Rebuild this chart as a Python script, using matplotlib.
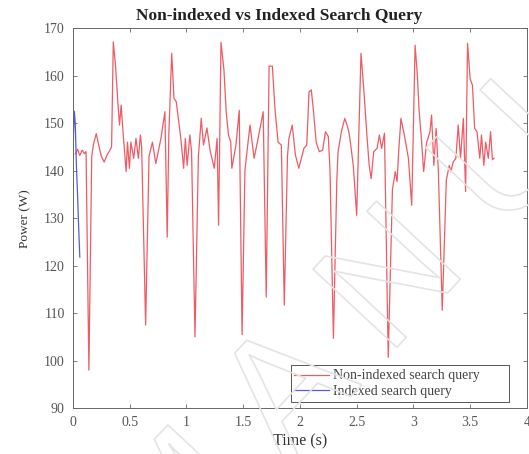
import matplotlib
matplotlib.use("Agg")
import matplotlib.pyplot as plt
import matplotlib.patheffects as pe
from matplotlib.patches import Rectangle

# Non-indexed search query power trace (time in s, power in W)
t_nonindexed = [0.02, 0.04, 0.06, 0.08, 0.10, 0.115, 0.14, 0.165, 0.18, 0.205, 0.23, 0.25, 0.275, 0.30,
                0.325, 0.34, 0.355, 0.375, 0.395, 0.41, 0.424, 0.435, 0.45, 0.468, 0.48, 0.497, 0.51,
                0.535, 0.555, 0.576, 0.594, 0.605, 0.64, 0.67, 0.70, 0.73, 0.775, 0.81, 0.83, 0.845,
                0.87, 0.89, 0.91, 0.95, 0.975, 0.99, 1.006, 1.03, 1.045, 1.075, 1.105, 1.13, 1.15,
                1.18, 1.21, 1.245, 1.27, 1.283, 1.304, 1.33, 1.35, 1.37, 1.39, 1.40, 1.436, 1.465,
                1.49, 1.515, 1.53, 1.56, 1.596, 1.625, 1.676, 1.703, 1.728, 1.757, 1.78, 1.807,
                1.836, 1.862, 1.89, 1.903, 1.932, 1.96, 1.99, 2.035, 2.06, 2.08, 2.10, 2.12, 2.143,
                2.17, 2.20, 2.225, 2.25, 2.265, 2.295, 2.325, 2.336, 2.365, 2.395, 2.415, 2.43, 2.44,
                2.47, 2.50, 2.538, 2.56, 2.59, 2.61, 2.628, 2.65, 2.68, 2.70, 2.72, 2.745, 2.778,
                2.815, 2.84, 2.856, 2.87, 2.89, 2.92, 2.956, 2.985, 3.015, 3.035, 3.05, 3.07, 3.09,
                3.117, 3.146, 3.16, 3.18, 3.20, 3.22, 3.254, 3.29, 3.316, 3.33, 3.35, 3.374, 3.395,
                3.415, 3.44, 3.46, 3.477, 3.50, 3.52, 3.54, 3.56, 3.585, 3.60, 3.62, 3.637, 3.66,
                3.68, 3.696, 3.71]
p_nonindexed = [143.5, 144.5, 143.2, 144.3, 143.6, 144.0, 98.0, 143.0, 145.5, 147.8, 145.0, 143.0, 141.8,
                143.3, 144.3, 145.0, 167.1, 162.0, 154.5, 149.6, 153.8, 150.0, 145.4, 139.8, 146.0,
                140.5, 146.0, 142.6, 146.8, 142.6, 147.5, 145.0, 107.5, 143.0, 146.0, 141.5, 146.8,
                152.4, 126.0, 148.0, 164.7, 155.2, 154.5, 146.8, 140.5, 146.8, 141.1, 147.5, 144.0,
                105.0, 143.0, 151.0, 145.4, 149.0, 144.0, 140.5, 146.8, 128.5, 167.0, 161.3, 152.4,
                147.5, 146.0, 140.5, 145.4, 152.7, 105.5, 140.0, 143.3, 149.6, 142.6, 146.0, 152.4,
                113.4, 162.0, 162.0, 153.0, 146.0, 145.4, 111.7, 143.0, 146.8, 149.6, 143.3, 140.5,
                144.7, 145.4, 156.6, 157.0, 152.4, 146.0, 144.0, 144.3, 148.2, 147.2, 140.0, 104.7,
                138.0, 144.0, 148.2, 151.0, 149.6, 148.2, 146.8, 141.1, 130.6, 164.7, 158.0, 147.5,
                141.1, 138.3, 144.0, 144.7, 147.5, 144.7, 147.9, 100.7, 136.0, 139.8, 137.7, 144.0,
                151.0, 147.5, 142.6, 132.7, 166.4, 160.0, 152.7, 146.8, 139.8, 146.0, 148.2, 151.7,
                141.1, 148.9, 139.8, 110.6, 138.0, 141.1, 139.8, 141.8, 142.6, 149.6, 142.6, 151.0,
                135.6, 166.8, 159.3, 158.0, 148.9, 148.2, 142.6, 147.5, 141.1, 146.0, 142.6, 148.2,
                142.3, 142.6]

# Indexed search query power trace
t_indexed = [0.0, 0.005, 0.012, 0.02, 0.03, 0.04, 0.05, 0.06]
p_indexed = [143.0, 148.0, 152.5, 150.0, 141.0, 135.0, 128.0, 121.8]

x_ticks = [0, 0.5, 1, 1.5, 2, 2.5, 3, 3.5, 4]
x_tick_labels = ["0", "0.5", "1", "1.5", "2", "2.5", "3", "3.5", "4"]
y_ticks = [90, 100, 110, 120, 130, 140, 150, 160, 170]

serif = ["Liberation Serif", "DejaVu Serif"]
plt.rcParams["font.family"] = serif

fig = plt.figure(figsize=(5.29, 4.54), dpi=100)
ax = fig.add_axes([0.138, 0.101, 0.858, 0.837])

ax.plot(t_nonindexed, p_nonindexed, color="#f05a64", lw=0.9, label="Non-indexed search query")
ax.plot(t_indexed, p_indexed, color="#5a5ad2", lw=0.9, label="Indexed search query")

ax.set_xlim(0, 4)
ax.set_ylim(90, 170)
ax.set_xticks(x_ticks)
ax.set_xticklabels(x_tick_labels)
ax.set_yticks(y_ticks)
ax.tick_params(direction="in", top=True, right=True, length=3, width=0.6,
               labelsize=10, colors="#666666", labelcolor="#555555", pad=6)
for s in ax.spines.values():
    s.set_color("#666666")
    s.set_linewidth(0.7)

ax.set_title("Non-indexed vs Indexed Search Query", fontsize=12.5, fontweight="bold", pad=6,
             color="#222222", x=0.455)
ax.set_xlabel("Time (s)", fontsize=11.5, color="#333333", labelpad=3)
ax.set_ylabel("Power (W)", fontsize=9.5, color="#333333", labelpad=9)

# Legend entries without their own frame; a boxed outline with wide right margin
leg = ax.legend(loc="center left", bbox_to_anchor=(0.488, 0.064), fontsize=10, frameon=False,
                handlelength=2.5, borderpad=0.0, labelspacing=0.2,
                handletextpad=0.3, borderaxespad=0.0)
for txt in leg.get_texts():
    txt.set_color("#444444")
ax.add_patch(Rectangle((0.481, 0.016), 0.479, 0.097, transform=ax.transAxes, fill=False,
                       edgecolor="#555555", lw=0.7, zorder=5))

# Diagonal outlined, letter-spaced watermark
fig.text(0.255, -0.245, "M A N U S C R I P T", fontsize=120, rotation=47, rotation_mode="anchor",
         ha="left", va="center", family=["Liberation Sans", "DejaVu Sans"], color="none",
         path_effects=[pe.withStroke(linewidth=1.2, foreground="#e4e4e4")], zorder=10)

fig.savefig("out.png", dpi=100)
